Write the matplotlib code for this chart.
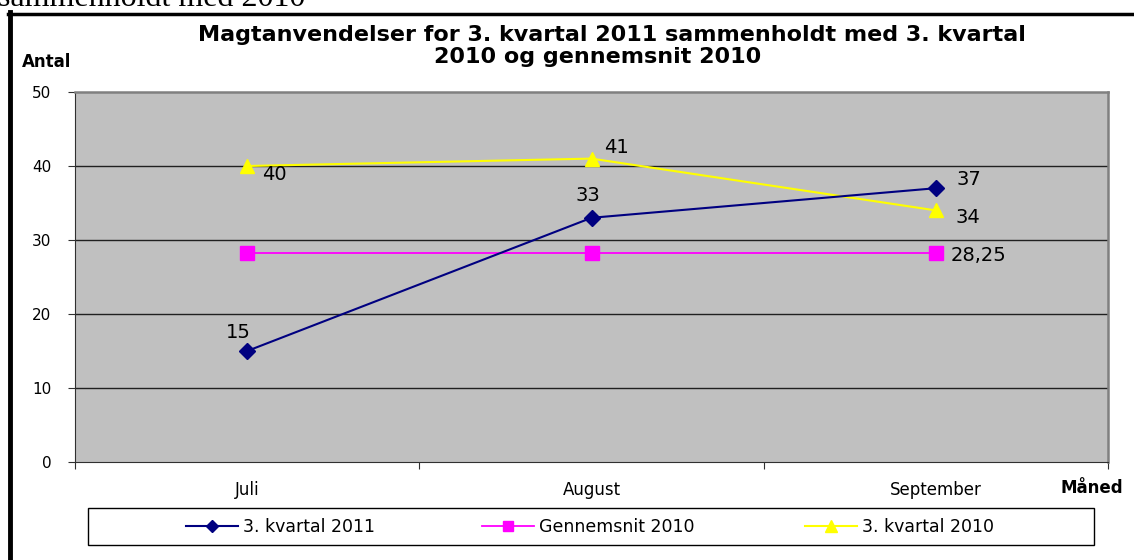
import matplotlib.pyplot as plt
from matplotlib.patches import Rectangle
from matplotlib.lines import Line2D

months = ['Juli', 'August', 'September']
kvartal_2011 = [15, 33, 37]
gennemsnit_2010 = [28.25, 28.25, 28.25]
kvartal_2010 = [40, 41, 34]
yticks = [0, 10, 20, 30, 40, 50]

plt.rcParams['font.family'] = ['DejaVu Sans']

W, H = 1134, 560
fig = plt.figure(figsize=(W / 100, H / 100), dpi=100)
ax = fig.add_axes([75 / W, 1 - 462 / H, 1033 / W, 370 / H])
ax.set_facecolor('#c0c0c0')

x = [i + 0.5 for i in range(len(months))]
l1, = ax.plot(x, kvartal_2011, color='#000080', marker='D', ms=8, lw=1.5, label='3. kvartal 2011', zorder=4)
l2, = ax.plot(x, gennemsnit_2010, color='#ff00ff', marker='s', ms=9.5, lw=1.3, label='Gennemsnit 2010', zorder=3)
l3, = ax.plot(x, kvartal_2010, color='#ffff00', marker='^', ms=10, lw=1.5, label='3. kvartal 2010', zorder=3)

ax.set_xlim(0, 3)
ax.set_ylim(0, 50)
ax.set_yticks(yticks)
ax.set_yticklabels([str(v) for v in yticks], fontsize=11)
ax.set_xticks([0, 1, 2, 3])
ax.set_xticklabels([])
ax.set_xticks(x, minor=True)
ax.set_xticklabels(months, minor=True, fontsize=12)
ax.tick_params(axis='x', which='minor', length=0, pad=14)
ax.tick_params(axis='x', which='major', length=5, direction='out', color='#303030')
ax.tick_params(axis='y', length=5, direction='out', color='#303030', pad=12)
for v in yticks[1:-1]:
    ax.axhline(v, color='#202020', lw=1, zorder=1)
for s in ['left', 'bottom']:
    ax.spines[s].set_color('#303030')
for s in ['top', 'right']:
    ax.spines[s].set_color('#808080')
    ax.spines[s].set_linewidth(1.8)

# data labels, offsets in pixels -> points
def label(val, xi, yi, dx, dy, ha='left'):
    ax.annotate(val, (xi, yi), xytext=(dx * 0.72, dy * 0.72), textcoords='offset points',
                ha=ha, va='center', fontsize=14, color='black', zorder=5)

label(str(kvartal_2011[0]), x[0], kvartal_2011[0], -9, 19, 'center')
label(str(kvartal_2011[1]), x[1], kvartal_2011[1], -4, 22, 'center')
label(str(kvartal_2011[2]), x[2], kvartal_2011[2], 21, 9)
label(str(kvartal_2010[0]), x[0], kvartal_2010[0], 15, -8)
label(str(kvartal_2010[1]), x[1], kvartal_2010[1], 13, 11)
label(str(kvartal_2010[2]), x[2], kvartal_2010[2], 20, -7)
label(f'{gennemsnit_2010[2]:.2f}'.replace('.', ','), x[2], gennemsnit_2010[2], 15, -3)

fig.text(612 / W, 1 - 35 / H, 'Magtanvendelser for 3. kvartal 2011 sammenholdt med 3. kvartal',
         ha='center', va='center', fontsize=16, fontweight='bold')
fig.text(598 / W, 1 - 57 / H, '2010 og gennemsnit 2010',
         ha='center', va='center', fontsize=16, fontweight='bold')
fig.text(22 / W, 1 - 62 / H, 'Antal', ha='left', va='center', fontsize=12, fontweight='bold')
fig.text(1061 / W, 1 - 488 / H, 'Måned', ha='left', va='center', fontsize=12, fontweight='bold')
fig.text(-2 / W, 1 - 6 / H, 'sammenholdt med 2010', ha='left', va='baseline', fontsize=23,
         family=['Liberation Serif', 'DejaVu Serif'])

# outer frame
fig.add_artist(Line2D([10 / W, 10 / W], [0, 1 - 12 / H], color='black', lw=3.5))
fig.add_artist(Line2D([8 / W, 1], [1 - 13.5 / H, 1 - 13.5 / H], color='black', lw=2.5))

# legend box
fig.add_artist(Rectangle((88 / W, 1 - 545 / H), 1006 / W, 37 / H, transform=fig.transFigure,
                         facecolor='white', edgecolor='black', lw=1))
for handle, x0 in zip([l1, l2, l3], [186, 482, 805]):
    fig.legend([handle], [handle.get_label()], loc='center left', bbox_to_anchor=(x0 / W, 1 - 527 / H),
               frameon=False, fontsize=12.5, handlelength=3.0, handletextpad=0.3, borderpad=0,
               borderaxespad=0, markerscale=0.8)

fig.savefig('out.png', dpi=100)
